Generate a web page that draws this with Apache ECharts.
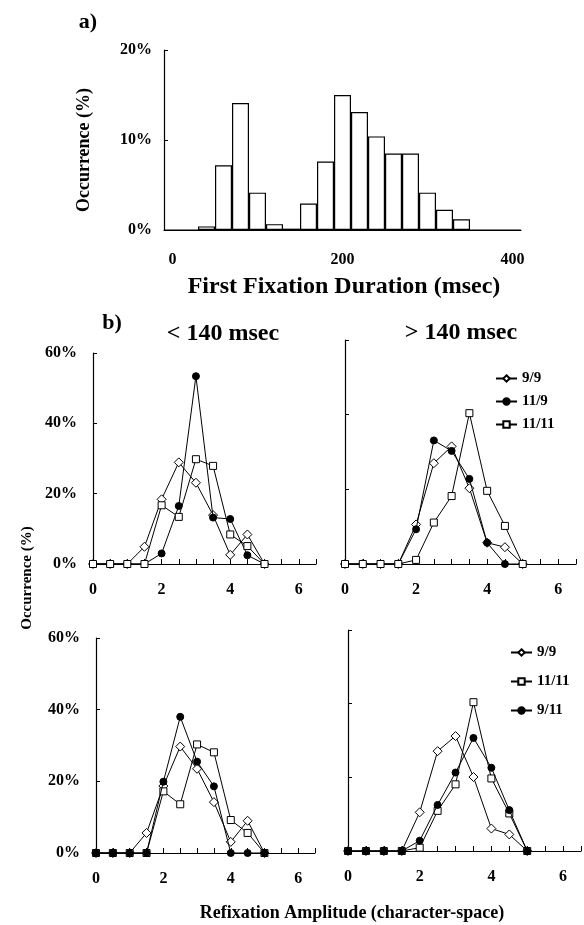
<!DOCTYPE html>
<html>
<head>
<meta charset="utf-8">
<script src="https://cdn.jsdelivr.net/npm/echarts@6/dist/echarts.min.js"></script>
<style>
  html, body { margin: 0; padding: 0; background: #fff; }
  #chart { width: 584px; height: 925px; }
</style>
</head>
<body>
<div id="chart"></div>
<script>
// panel a: first fixation duration histogram (bins centred on multiples of 20 ms)
var durationBins = ['0', '20', '40', '60', '80', '100', '120', '140', '160', '180', '200',
  '220', '240', '260', '280', '300', '320', '340', '360', '380', '400'];
var durationPct = [0, 0, 0.4, 7.2, 14.1, 4.15, 0.65, 0.15, 2.95, 7.6, 15.0,
  13.1, 10.4, 8.5, 8.5, 4.15, 2.25, 1.2, 0, 0, 0];
var durationLabels = ['0', '200', '400'];

// panel b: refixation amplitude (character-space)
var amplitudes = [0, 0.5, 1, 1.5, 2, 2.5, 3, 3.5, 4, 4.5, 5];
var ampLabels = [0, 2, 4, 6];

// top row
var short99 = [0, 0, 0, 4.9, 18.4, 28.9, 23.1, 13.9, 2.6, 8.4, 0];
var short119 = [0, 0, 0, 0, 3.0, 16.5, 53.4, 13.2, 12.8, 2.5, 0];
var short1111 = [0, 0, 0, 0, 16.7, 13.4, 29.8, 27.9, 8.4, 5.1, 0];
var long99 = [0, 0, 0, 0, 10.6, 27.0, 31.5, 20.3, 5.7, 4.5, 0];
var long119 = [0, 0, 0, 0, 9.3, 33.1, 30.3, 22.8, 5.7, 0, 0];
var long1111 = [0, 0, 0, 0, 1.1, 11.1, 18.2, 40.4, 19.6, 10.2, 0];

// bottom row
var lowShort99 = [0, 0, 0, 5.6, 18.7, 29.7, 23.5, 14.2, 3.1, 9.0, 0];
var lowShort1111 = [0, 0, 0, 0, 17.2, 13.6, 30.3, 28.1, 9.2, 5.6, 0];
var lowShort911 = [0, 0, 0, 0, 19.9, 38.0, 25.5, 18.6, 0, 0, 0];
var lowLong99 = [0, 0, 0, 0, 10.5, 27.1, 31.2, 20.1, 6.1, 4.5, 0];
var lowLong1111 = [0, 0, 0, 0, 0.9, 10.9, 18.1, 40.4, 19.7, 10.2, 0];
var lowLong911 = [0, 0, 0, 0, 2.8, 12.5, 21.3, 30.7, 22.6, 11.1, 0];

var FONT = 'Liberation Serif';
var markers = {
  '9/9': { symbol: 'diamond', size: 9, fill: '#fff' },
  '11/9': { symbol: 'circle', size: 7, fill: '#000' },
  '9/11': { symbol: 'circle', size: 7, fill: '#000' },
  '11/11': { symbol: 'rect', size: 7, fill: '#fff' }
};

var panels = [
  { left: 93, top: 353, width: 223, height: 211, labels: true,
    series: [['9/9', short99], ['11/9', short119], ['11/11', short1111]] },
  { left: 345, top: 340, width: 231, height: 224, labels: false,
    series: [['9/9', long99], ['11/9', long119], ['11/11', long1111]] },
  { left: 96, top: 638, width: 219, height: 215, labels: true,
    series: [['9/9', lowShort99], ['11/11', lowShort1111], ['9/11', lowShort911]] },
  { left: 348, top: 630, width: 233, height: 221, labels: false,
    series: [['9/9', lowLong99], ['11/11', lowLong1111], ['9/11', lowLong911]] }
];

var grid = [{ left: 164, top: 50, width: 357, height: 180 }];
var xAxis = [{
  type: 'category', gridIndex: 0, data: durationBins,
  axisLine: { lineStyle: { color: '#000', width: 1.2 } },
  axisTick: { inside: true, length: 5, interval: 0, lineStyle: { color: '#000' } },
  axisLabel: {
    interval: function (i, v) { return durationLabels.indexOf(v) >= 0; },
    margin: 22, color: '#000', fontFamily: FONT, fontWeight: 'bold', fontSize: 16
  }
}];
var yAxis = [{
  type: 'value', gridIndex: 0, min: 0, max: 20, interval: 10,
  splitLine: { show: false },
  axisLine: { show: true, lineStyle: { color: '#000', width: 1.2 } },
  axisTick: { show: true, inside: true, length: 4, lineStyle: { color: '#000' } },
  axisLabel: { formatter: '{value}%', margin: 12, color: '#000', fontFamily: FONT, fontWeight: 'bold', fontSize: 16 }
}];
var series = [{
  type: 'bar', xAxisIndex: 0, yAxisIndex: 0, data: durationPct,
  barWidth: '100%', barCategoryGap: 0, silent: true,
  itemStyle: { color: '#fff', borderColor: '#000', borderWidth: 1.2 }
}];

panels.forEach(function (p, k) {
  var g = k + 1;
  grid.push({ left: p.left, top: p.top, width: p.width, height: p.height });
  xAxis.push({
    type: 'value', gridIndex: g, min: 0, max: 6.5, interval: 0.5,
    splitLine: { show: false },
    axisLine: { lineStyle: { color: '#000', width: 1.2 } },
    axisTick: { inside: true, length: 5, lineStyle: { color: '#000' } },
    axisLabel: {
      formatter: function (v) { return ampLabels.indexOf(v) >= 0 ? String(v) : ''; },
      margin: 18, color: '#000', fontFamily: FONT, fontWeight: 'bold', fontSize: 16
    }
  });
  yAxis.push({
    type: 'value', gridIndex: g, min: 0, max: 60, interval: 20,
    splitLine: { show: false },
    axisLine: { show: true, lineStyle: { color: '#000', width: 1.2 } },
    axisTick: { show: true, inside: true, length: 4, lineStyle: { color: '#000' } },
    axisLabel: {
      show: p.labels, formatter: '{value}%', margin: 16,
      color: '#000', fontFamily: FONT, fontWeight: 'bold', fontSize: 16
    }
  });
  p.series.forEach(function (s, j) {
    var m = markers[s[0]];
    series.push({
      name: s[0], type: 'line', xAxisIndex: g, yAxisIndex: g, z: 2 + j,
      data: amplitudes.map(function (a, i) { return [a, s[1][i]]; }),
      symbol: m.symbol, symbolSize: m.size, showAllSymbol: true,
      lineStyle: { color: '#000', width: 1 },
      itemStyle: { color: m.fill, borderColor: '#000', borderWidth: 1 },
      animation: false
    });
  });
});

function legendAt(left, top, names, gap) {
  return {
    orient: 'vertical', left: left, top: top, data: names, itemGap: gap,
    itemWidth: 21, itemHeight: 8, selectedMode: false,
    textStyle: { color: '#000', fontFamily: FONT, fontWeight: 'bold', fontSize: 15 }
  };
}

function txt(x, y, text, size, rot) {
  return {
    type: 'text', x: x, y: y, rotation: rot || 0, silent: true,
    style: { text: text, fill: '#000', font: 'bold ' + size + 'px "' + FONT + '"', align: 'center', verticalAlign: 'middle' }
  };
}

var chart = echarts.init(document.getElementById('chart'));
chart.setOption({
  animation: false,
  backgroundColor: '#fff',
  grid: grid,
  xAxis: xAxis,
  yAxis: yAxis,
  series: series,
  legend: [
    legendAt(490, 366, ['9/9', '11/9', '11/11'], 8),
    legendAt(505, 640, ['9/9', '11/11', '9/11'], 14)
  ],
  graphic: [
    txt(88, 22, 'a)', 22),
    txt(84, 150, 'Occurrence (%)', 18, Math.PI / 2),
    txt(344, 287, 'First Fixation Duration (msec)', 24),
    txt(112, 323, 'b)', 22),
    txt(223, 334, '< 140 msec', 24),
    txt(461, 333, '> 140 msec', 24),
    txt(27, 578, 'Occurrence (%)', 15, Math.PI / 2),
    txt(352, 913, 'Refixation Amplitude (character-space)', 18)
  ]
});
</script>
</body>
</html>
